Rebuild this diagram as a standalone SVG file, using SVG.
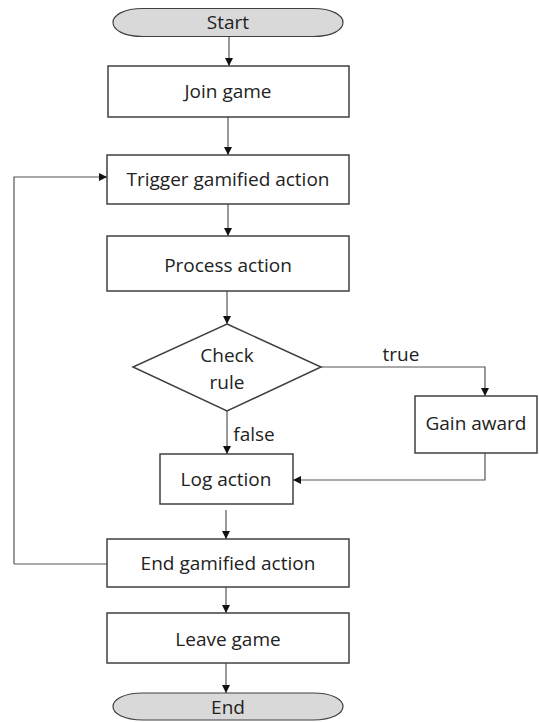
<svg xmlns="http://www.w3.org/2000/svg" width="539" height="722" viewBox="0 0 539 722">
<defs>
<marker id="ah" viewBox="0 0 10 10" refX="10" refY="5" markerWidth="8" markerHeight="8" markerUnits="userSpaceOnUse" orient="auto">
<path d="M0,0 L10,5 L0,10 Z" fill="#111"/>
</marker>
</defs>
<style>
.box{fill:#fff;stroke:#404040;stroke-width:1.5}
.pill{fill:#d9d9d9;stroke:#404040;stroke-width:1.2}
.t{font-family:"Open Sans","Liberation Sans",sans-serif;font-size:19px;fill:#222;text-anchor:middle;dominant-baseline:central}
.c{fill:none;stroke:#555;stroke-width:1.2;marker-end:url(#ah)}
</style>
<rect width="539" height="722" fill="#fff"/>
<g id="connectors">
<path class="c" d="M229,37 V66"/>
<path class="c" d="M228,117 V155"/>
<path class="c" d="M14,564 V177 H107"/>
<path class="c" d="M228,204 V236"/>
<path class="c" d="M227,291 V324"/>
<path class="c" d="M321,367 H485 V396"/>
<path class="c" d="M227,411 V454"/>
<path class="c" d="M485,453 V480 H293"/>
<path class="c" d="M226,510 V539"/>
<path fill="none" stroke="#555" stroke-width="1.2" d="M107,564 H14"/>
<path class="c" d="M226,587 V613"/>
<path class="c" d="M226,663 V693"/>
<text class="t" x="401" y="354">true</text>
<text class="t" x="254" y="434">false</text>
</g>
<g id="start"><path class="pill" d="M143,8.5 H313 C353,8.5 353,36.5 313,36.5 H143 C103,36.5 103,8.5 143,8.5 Z"/><text class="t" x="228" y="22">Start</text></g>
<g id="join"><rect class="box" x="108" y="66" width="241" height="51"/><text class="t" x="228" y="91">Join game</text></g>
<g id="trigger"><rect class="box" x="107" y="155" width="242" height="49"/><text class="t" x="228" y="179">Trigger gamified action</text></g>
<g id="process"><rect class="box" x="107" y="236" width="242" height="55"/><text class="t" x="228" y="265">Process action</text></g>
<g id="check"><polygon class="box" points="227,324 321,367 227,411 133,367"/><text class="t" x="227" y="355">Check</text><text class="t" x="227" y="382">rule</text></g>
<g id="gain"><rect class="box" x="415" y="396" width="122" height="57"/><text class="t" x="476" y="423">Gain award</text></g>
<g id="log"><rect class="box" x="160" y="454" width="133" height="50"/><text class="t" x="226" y="479">Log action</text></g>
<g id="endaction"><rect class="box" x="107" y="539" width="242" height="48"/><text class="t" x="228" y="563">End gamified action</text></g>
<g id="leave"><rect class="box" x="107" y="613" width="242" height="50"/><text class="t" x="228" y="639">Leave game</text></g>
<g id="end"><path class="pill" d="M143,693 H313 C353,693 353,720 313,720 H143 C103,720 103,693 143,693 Z"/><text class="t" x="228" y="707">End</text></g>
</svg>
